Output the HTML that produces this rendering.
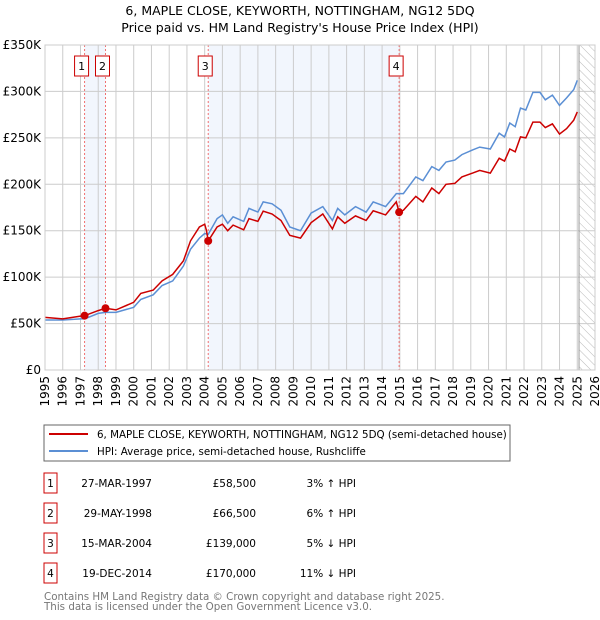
<!DOCTYPE html>
<html><head><meta charset="utf-8"><style>
body{margin:0;background:#fff;font-family:"DejaVu Sans","Liberation Sans",sans-serif;}
svg{display:block}
</style></head><body>
<svg id="c" width="600" height="620" font-family="DejaVu Sans, Liberation Sans, sans-serif"></svg>
<script>
const hpiYears=[1995,1996,1997,1997.23,1998,1998.41,1999,2000,2000.4,2001.1,2001.6,2002.2,2002.8,2003.2,2003.7,2004.0,2004.2,2004.7,2005,2005.3,2005.6,2006.2,2006.5,2007,2007.3,2007.8,2008.3,2008.8,2009.4,2010,2010.66,2011.2,2011.5,2011.9,2012.5,2013.1,2013.5,2014.2,2014.8,2015.2,2015.9,2016.3,2016.8,2017.2,2017.6,2018.1,2018.5,2019.1,2019.5,2020.1,2020.6,2020.9,2021.2,2021.5,2021.8,2022.1,2022.5,2022.9,2023.2,2023.6,2024.0,2024.4,2024.8,2025.0];
const hpiValues=[53.8,53.8,55,55,61,62,62,67.5,76,81,91,96,112,130,142,147,146,163,167,158,165,160,174,170,181,179,172,154,150,169,176,161,174,167,176,170,181,176,190,190,208,204,219,215,224,226,232,237,240,238,255,251,266,262,282,280,299,299,291,296,285,293,302,312];
const saleYears=[1995,1996,1997,1997.23,1998,1998.41,1999,2000,2000.4,2001.1,2001.6,2002.2,2002.8,2003.2,2003.7,2004.0,2004.1,2004.2,2004.7,2005,2005.3,2005.6,2006.2,2006.5,2007,2007.3,2007.8,2008.3,2008.8,2009.4,2010,2010.66,2011.2,2011.5,2011.9,2012.5,2013.1,2013.5,2014.2,2014.8,2014.96,2015.2,2015.9,2016.3,2016.8,2017.2,2017.6,2018.1,2018.5,2019.1,2019.5,2020.1,2020.6,2020.9,2021.2,2021.5,2021.8,2022.1,2022.5,2022.9,2023.2,2023.6,2024.0,2024.4,2024.8,2025.0];
const saleValues=[56.7,55,58,58.5,64,66.5,64.7,72.9,82.5,86,96,103,117.5,139,154,157,150,139,154,157,150,156,151,163,160,171,168,161,145,142,158.6,168,152,165,158,166,161,171.5,167,181,170,172,187,181,196,190,200,201,208,212,215,212,228,225,238,235,251,250,267,267,261,265,254,260,269,278];
const saleLabels=["1","2","3","4"];
const saleDates=[1997.23,1998.41,2004.2,2014.96];
const salePrices=[58.5,66.5,139,170];
const yTicks=[0,50,100,150,200,250,300,350];
const yTickLabels=["£0","£50K","£100K","£150K","£200K","£250K","£300K","£350K"];
const xTicks=[1995,1996,1997,1998,1999,2000,2001,2002,2003,2004,2005,2006,2007,2008,2009,2010,2011,2012,2013,2014,2015,2016,2017,2018,2019,2020,2021,2022,2023,2024,2025,2026];

const L=45,R=595,T=45,B=370;
const x=v=>L+(v-1995)/(2026-1995)*(R-L);
const y=v=>B-v/350*(B-T);
const svg=document.getElementById('c');
const NS='http://www.w3.org/2000/svg';
function mk(tag,attrs,parent){const e=document.createElementNS(NS,tag);for(const k in attrs)e.setAttribute(k,attrs[k]);(parent||svg).appendChild(e);return e;}

const defs=mk('defs',{});
const pat=mk('pattern',{id:'hatch',width:6,height:6,patternUnits:'userSpaceOnUse',patternTransform:'rotate(-45)'},defs);
mk('line',{x1:0,y1:0,x2:0,y2:6,stroke:'#bbb','stroke-width':1},pat);
let b1=mk('rect',{x:x(saleDates[0]),y:T,width:x(saleDates[1])-x(saleDates[0]),height:B-T,fill:'#f2f6fd'});

let b2=mk('rect',{x:x(saleDates[2]),y:T,width:x(saleDates[3])-x(saleDates[2]),height:B-T,fill:'#f2f6fd'});

let hz=mk('rect',{x:x(2025.1),y:T,width:R-x(2025.1),height:B-T,fill:'url(#hatch)'});


xTicks.forEach(t=>{const g=mk('line',{x1:x(t),x2:x(t),y1:T,y2:B,stroke:'#ccc','stroke-width':1});

const tx=mk('text',{x:0,y:0,'font-size':12,fill:'#000','text-anchor':'end',transform:`translate(${x(t)+4},${B+6}) rotate(-90)`});tx.textContent=t;
});
yTicks.forEach((t,i)=>{const g=mk('line',{x1:L,x2:R,y1:y(t),y2:y(t),stroke:'#ccc','stroke-width':1});

const tx=mk('text',{x:L-4,y:y(t)+4,'font-size':12,'text-anchor':'end',fill:'#000'});tx.textContent=yTickLabels[i];
});
mk('line',{x1:x(2025.1),x2:x(2025.1),y1:T,y2:B,stroke:'#999','stroke-width':1});

saleDates.forEach((d,i)=>{const l=mk('line',{x1:x(d),x2:x(d),y1:T,y2:B,stroke:'#f07070','stroke-width':1,'stroke-dasharray':'2,2'});

const bx=mk('rect',{x:x(d)-10,y:56,width:14,height:20,fill:'#fff',stroke:'#c00'});

const t=mk('text',{x:x(d)-3,y:70,'font-size':11,'text-anchor':'middle'});t.textContent=saleLabels[i];
});

function path(xs,vs){return xs.map((v,i)=>(i?'L':'M')+x(v).toFixed(1)+','+y(vs[i]).toFixed(1)).join('');}
const hp=mk('path',{d:path(hpiYears,hpiValues),fill:'none',stroke:'#5b8fd4','stroke-width':1.5});

const sp=mk('path',{d:path(saleYears,saleValues),fill:'none',stroke:'#cc0000','stroke-width':1.5});

saleDates.forEach((d,i)=>{const c=mk('circle',{cx:x(d),cy:y(salePrices[i]),r:4,fill:'#cc0000'});
});
mk('rect',{x:L,y:T,width:R-L,height:B-T,fill:'none',stroke:'#ccc'});

const t1=mk('text',{x:300,y:15,'font-size':12.5,'text-anchor':'middle'});t1.textContent="6, MAPLE CLOSE, KEYWORTH, NOTTINGHAM, NG12 5DQ";

const t2=mk('text',{x:300,y:32,'font-size':12.5,'text-anchor':'middle'});t2.textContent="Price paid vs. HM Land Registry's House Price Index (HPI)";


const lg=mk('g',{});
mk('rect',{x:44,y:425,width:466,height:36,fill:'#fff',stroke:'#666'},lg);
mk('line',{x1:49,x2:88,y1:434,y2:434,stroke:'#cc0000','stroke-width':2},lg);
mk('line',{x1:49,x2:88,y1:451,y2:451,stroke:'#5b8fd4','stroke-width':2},lg);
const le1=mk('text',{x:97,y:438,'font-size':10.3},lg);le1.textContent="6, MAPLE CLOSE, KEYWORTH, NOTTINGHAM, NG12 5DQ (semi-detached house)";

const le2=mk('text',{x:97,y:455,'font-size':10.3},lg);le2.textContent="HPI: Average price, semi-detached house, Rushcliffe";


const dates=["27-MAR-1997","29-MAY-1998","15-MAR-2004","19-DEC-2014"];
const prices=["£58,500","£66,500","£139,000","£170,000"];
const pcts=["3% ↑ HPI","6% ↑ HPI","5% ↓ HPI","11% ↓ HPI"];
for(let i=0;i<4;i++){const cy=483+i*30;
const r=mk('rect',{x:44,y:cy-10,width:13,height:20,fill:'#fff',stroke:'#c00'});
const n=mk('text',{x:50.5,y:cy+4,'font-size':10.5,'text-anchor':'middle'});n.textContent=saleLabels[i];
const a=mk('text',{x:152,y:cy+4,'font-size':10.5,'text-anchor':'end'});a.textContent=dates[i];
const b=mk('text',{x:256,y:cy+4,'font-size':10.5,'text-anchor':'end'});b.textContent=prices[i];
const c=mk('text',{x:356,y:cy+4,'font-size':10.5,'text-anchor':'end'});c.textContent=pcts[i];}
const f1=mk('text',{x:44,y:600,'font-size':10.3,fill:'#777'});f1.textContent="Contains HM Land Registry data © Crown copyright and database right 2025.";

const f2=mk('text',{x:44,y:610,'font-size':10.3,fill:'#777'});f2.textContent="This data is licensed under the Open Government Licence v3.0.";

</script>
</body></html>
